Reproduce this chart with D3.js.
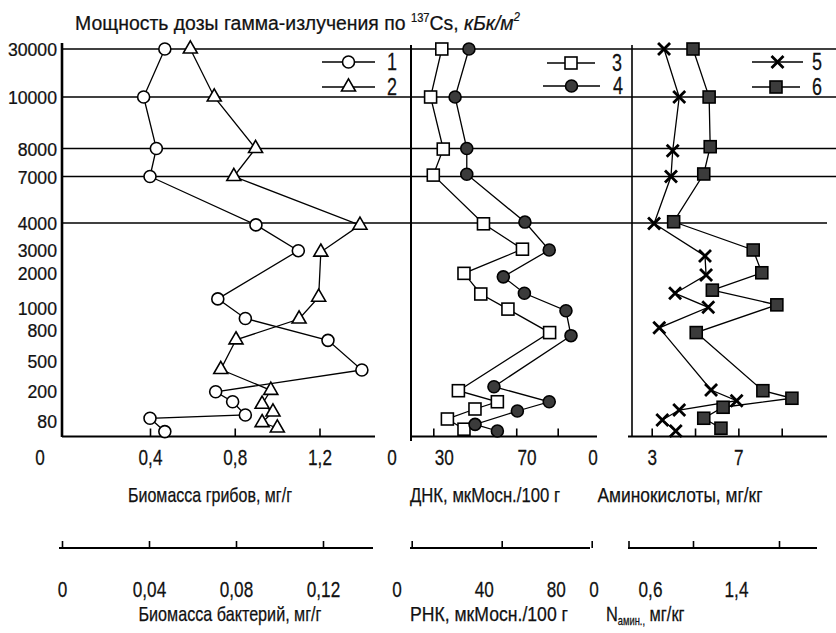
<!DOCTYPE html>
<html lang="ru">
<head>
<meta charset="utf-8">
<title>Мощность дозы гамма-излучения</title>
<script src="https://cdnjs.cloudflare.com/ajax/libs/d3/7.8.5/d3.min.js"></script>
<style>
  body { margin: 0; background: #fff; }
  svg { display: block; background: #fff; font-family: "Liberation Sans", Arial, sans-serif; }
  .domain { display: none; }
  .tick line { stroke: #000; stroke-width: 1.6; }
  text { fill: #111; stroke: #111; stroke-width: 0.25; }
</style>
</head>
<body>
<script>
// вертикальная ось: мощность дозы по 137Cs, кБк/м2
var doseTicks = [0, 80, 200, 500, 800, 1000, 2000, 3000, 4000, 7000, 8000, 10000, 30000];
var gridDoses = [4000, 7000, 8000, 10000, 30000];

// 1 - биомасса грибов, мг/г
var fungiX = [0.47, 0.37, 0.43, 0.40, 0.90, 1.10, 0.72, 0.85, 1.24, 1.40, 0.71, 0.79, 0.85, 0.40, 0.47];
var fungiY = [30000, 10000, 8000, 7000, 3930, 2970, 1260, 905, 700, 410, 197, 157, 104, 91, 27];
// 2 - биомасса бактерий, мг/г
var bactX = [0.059, 0.070, 0.089, 0.079, 0.137, 0.119, 0.118, 0.109, 0.080, 0.073, 0.096, 0.092, 0.097, 0.092, 0.099];
var bactY = [30000, 10000, 8000, 7000, 3920, 2910, 1310, 900, 705, 415, 207, 147, 116, 72, 45];
// 3 - ДНК, мкМ осн./100 г
var dnaX = [29.1, 23.7, 29.8, 25.0, 49.2, 68.0, 39.8, 47.9, 61.0, 81.1, 37.1, 55.9, 45.1, 31.8, 39.8];
var dnaY = [30000, 10000, 7980, 7050, 3970, 3030, 1990, 1400, 990, 775, 203, 157, 128, 88, 39];
// 4 - РНК, мкМ осн./100 г
var rnaX = [31.8, 24.1, 30.6, 30.6, 62.9, 76.4, 50.9, 62.6, 85.7, 88.5, 45.7, 76.4, 58.7, 35.2, 47.6];
var rnaY = [30000, 10000, 8000, 7080, 4060, 3000, 1890, 1420, 975, 745, 243, 157, 120, 63, 30];
// 5 - аминокислоты, мг/кг
var aminoX = [3.57, 4.27, 3.97, 3.89, 3.11, 5.46, 5.51, 4.08, 5.61, 3.35, 5.74, 6.92, 4.27, 3.49, 4.11];
var aminoY = [30000, 10000, 7920, 7000, 3980, 2740, 1940, 1420, 1020, 820, 210, 161, 124, 84, 30];
// 6 - N амин., мг/кг
var naminX = [1.00, 1.15, 1.16, 1.10, 0.82, 1.56, 1.64, 1.18, 1.78, 1.03, 1.65, 1.92, 1.28, 1.10, 1.26];
var naminY = [30000, 10000, 8070, 7090, 4080, 3000, 2010, 1510, 1090, 775, 203, 171, 135, 91, 44];

// деления и подписи нижних осей
var fungiTicks = [0.4, 0.8, 1.2],      fungiLabels = [0.4, 0.8, 1.2];
var bactTicks = [0, 0.04, 0.08, 0.12], bactLabels = [0, 0.04, 0.08, 0.12];
var dnaTicks = [25, 65, 85],           dnaLabels = [30, 70];
var rnaTicks = [0, 50, 100],           rnaLabels = [40, 80];
var aminoTicks = [3, 5, 7, 9],         aminoLabels = [3, 7];
var naminTicks = [0.4, 1.0, 1.8],      naminLabels = [0.6, 1.4];

var width = 836, height = 633;
var row1 = 436.5, row2 = 548;
var sx = 0.78; // узкий шрифт
var fs = 23;

var svg = d3.select("body").append("svg")
  .attr("width", width).attr("height", height);

// шкалы
var y = d3.scaleLinear().domain(doseTicks)
  .range([437, 421, 391, 361, 330, 308, 273, 250, 223, 176.5, 148.5, 97, 49]);

var xFungi = d3.scaleLinear().domain([0.4, 1.2]).range([150, 319.5]);
var xBact  = d3.scaleLinear().domain([0, 0.12]).range([62, 323]);
var xDna   = d3.scaleLinear().domain([25, 85]).range([433.3, 557.7]);
var xRna   = d3.scaleLinear().domain([0, 100]).range([411.7, 591.7]);
var xAmino = d3.scaleLinear().domain([3, 9]).range([651.7, 781.7]);
var xNamin = d3.scaleLinear().domain([0.6, 1.4]).range([650, 736]);

var fmt = function(d) { return String(d).replace(".", ","); };

// горизонтальные линии
svg.append("g").selectAll("line")
  .data(gridDoses).enter().append("line")
  .attr("x1", 62)
  .attr("x2", function(d) { return d === 4000 ? 827 : 836; })
  .attr("y1", function(d) { return y(d); })
  .attr("y2", function(d) { return y(d); })
  .attr("stroke", "#000").attr("stroke-width", 1.6);

// вертикальная ось (подписи плотные, поэтому кегль меньше)
var ysx = 0.93;
var yAxis = svg.append("g")
  .attr("transform", "translate(62,0)")
  .call(d3.axisLeft(y).tickValues(doseTicks.slice(1)).tickSize(0).tickFormat(String));
yAxis.selectAll("text")
  .attr("font-size", 19).attr("dy", "0.36em")
  .attr("transform", "scale(" + ysx + ",1)")
  .attr("x", -5 / ysx);

// рамки панелей
var vlines = [[62, 43, 437, 2.6], [411, 45, 441, 2], [632, 45, 437, 1.6]];
svg.append("g").selectAll("line").data(vlines).enter().append("line")
  .attr("x1", function(d) { return d[0]; }).attr("x2", function(d) { return d[0]; })
  .attr("y1", function(d) { return d[1]; }).attr("y2", function(d) { return d[2]; })
  .attr("stroke", "#000").attr("stroke-width", function(d) { return d[3]; });

// нижние оси
function bottomAxis(scale, ticks, labels, x0, x1, yy, tickLen, labelOff) {
  svg.append("line")
    .attr("x1", x0).attr("x2", x1).attr("y1", yy).attr("y2", yy)
    .attr("stroke", "#000").attr("stroke-width", 1.8);
  svg.append("g")
    .attr("transform", "translate(0," + yy + ")")
    .call(d3.axisBottom(scale).tickValues(ticks).tickSize(-tickLen).tickFormat(""));
  var g = svg.append("g")
    .attr("transform", "translate(0," + yy + ")")
    .call(d3.axisBottom(scale).tickValues(labels).tickSize(0).tickFormat(fmt));
  g.selectAll("text")
    .attr("font-size", fs - 1).attr("y", labelOff).attr("dy", "0.36em")
    .attr("transform", "scale(" + sx + ",1)");
}

bottomAxis(xFungi, fungiTicks, fungiLabels, 62, 375, row1, 8, 21);
bottomAxis(xDna, dnaTicks, dnaLabels, 411, 597, row1, 8, 21);
bottomAxis(xAmino, aminoTicks, aminoLabels, 628, 827, row1, 8, 21);
bottomAxis(xBact, bactTicks, bactLabels, 59, 373, row2, 7, 41);
bottomAxis(xRna, rnaTicks, rnaLabels, 410, 590, row2, 7, 41);
bottomAxis(xNamin, naminTicks, naminLabels, 628, 817, row2, 7, 41);

// нули в углах панелей
var zeros = [[40, row1 + 21], [392, row1 + 21], [593, row1 + 21], [397, row2 + 41], [594, row2 + 41]];
svg.append("g").selectAll("text").data(zeros).enter().append("text")
  .attr("transform", function(d) { return "translate(" + d[0] + "," + d[1] + ") scale(" + sx + ",1)"; })
  .attr("dy", "0.36em").attr("text-anchor", "middle").attr("font-size", fs - 1)
  .text("0");

// подписи осей
function title(x, yy, len, str) {
  svg.append("text")
    .attr("x", x - len / 2).attr("y", yy).attr("dy", "0.36em")
    .attr("font-size", 21)
    .attr("textLength", len).attr("lengthAdjust", "spacingAndGlyphs")
    .text(str);
}
title(210, row1 + 58, 164, "Биомасса грибов, мг/г");
title(485, row1 + 58, 150, "ДНК, мкМосн./100 г");
title(680, row1 + 58, 165, "Аминокислоты, мг/кг");
title(230, row2 + 65, 183, "Биомасса бактерий, мг/г");
title(489, row2 + 65, 158, "РНК, мкМосн./100 г");

var nt = svg.append("text")
  .attr("transform", "translate(606," + (row2 + 65) + ") scale(" + sx + ",1)")
  .attr("dy", "0.36em").attr("font-size", 21);
nt.append("tspan").text("N");
nt.append("tspan").attr("font-size", 12).attr("dy", 4).text("амин.,");
nt.append("tspan").attr("dy", -4).text(" мг/кг");

// заголовок: ширина подгоняется масштабом
var head = svg.append("text").attr("font-size", 21);
head.append("tspan").text("Мощность дозы гамма-излучения по ");
head.append("tspan").attr("font-size", 12).attr("dy", -8).text("137");
head.append("tspan").attr("dy", 8).text("Cs, ");
head.append("tspan").attr("font-style", "italic").text("кБк/м");
head.append("tspan").attr("font-style", "italic").attr("font-size", 12).attr("dy", -9).text("2");
var headLen = head.node().getComputedTextLength();
head.attr("transform", "translate(75,30) scale(" + (445 / headLen) + ",1)");

// маркеры
function drawMarker(g, type) {
  if (type === "circle" || type === "dot") {
    g.append("circle").attr("r", 6)
      .attr("fill", type === "dot" ? "#3b3b3b" : "#fff")
      .attr("stroke", "#000").attr("stroke-width", 1.6);
  } else if (type === "square" || type === "block") {
    g.append("rect").attr("x", -6).attr("y", -6).attr("width", 12).attr("height", 12)
      .attr("fill", type === "block" ? "#3b3b3b" : "#fff")
      .attr("stroke", "#000").attr("stroke-width", 1.6);
  } else if (type === "triangle") {
    g.append("path").attr("d", d3.symbol(d3.symbolTriangle, 85)())
      .attr("fill", "#fff").attr("stroke", "#000").attr("stroke-width", 1.6);
  } else if (type === "cross") {
    g.append("path").attr("d", "M-6,-6L6,6M-6,6L6,-6")
      .attr("fill", "none").attr("stroke", "#000").attr("stroke-width", 2.8);
  }
}

var series = [
  {xs: fungiX, ys: fungiY, sc: xFungi, type: "circle"},
  {xs: bactX,  ys: bactY,  sc: xBact,  type: "triangle"},
  {xs: dnaX,   ys: dnaY,   sc: xDna,   type: "square"},
  {xs: rnaX,   ys: rnaY,   sc: xRna,   type: "dot"},
  {xs: aminoX, ys: aminoY, sc: xAmino, type: "cross"},
  {xs: naminX, ys: naminY, sc: xNamin, type: "block"}
];

series.forEach(function(s) {
  var pts = s.xs.map(function(v, i) { return [s.sc(v), y(s.ys[i])]; });
  svg.append("path")
    .attr("d", d3.line()(pts))
    .attr("fill", "none").attr("stroke", "#000").attr("stroke-width", 1.3);
  svg.append("g").selectAll("g").data(pts).enter().append("g")
    .attr("transform", function(p) { return "translate(" + p[0] + "," + p[1] + ")"; })
    .each(function() { drawMarker(d3.select(this), s.type); });
});

// легенды
var legend = [
  {type: "circle",   label: "1", x1: 322, x2: 375, yy: 62, lx: 392},
  {type: "triangle", label: "2", x1: 322, x2: 375, yy: 87, lx: 392},
  {type: "square",   label: "3", x1: 547, x2: 595, yy: 63, lx: 617},
  {type: "dot",      label: "4", x1: 543, x2: 600, yy: 86, lx: 618},
  {type: "cross",    label: "5", x1: 752, x2: 803, yy: 62, lx: 817},
  {type: "block",    label: "6", x1: 752, x2: 800, yy: 87, lx: 817}
];
legend.forEach(function(l) {
  svg.append("line").attr("x1", l.x1).attr("x2", l.x2).attr("y1", l.yy).attr("y2", l.yy)
    .attr("stroke", "#000").attr("stroke-width", 1.3);
  var g = svg.append("g").attr("transform", "translate(" + (l.x1 + l.x2) / 2 + "," + l.yy + ")");
  drawMarker(g, l.type);
  svg.append("text")
    .attr("transform", "translate(" + l.lx + "," + l.yy + ") scale(" + sx + ",1)")
    .attr("text-anchor", "middle").attr("dy", "0.36em").attr("font-size", fs)
    .text(l.label);
});
</script>
</body>
</html>
